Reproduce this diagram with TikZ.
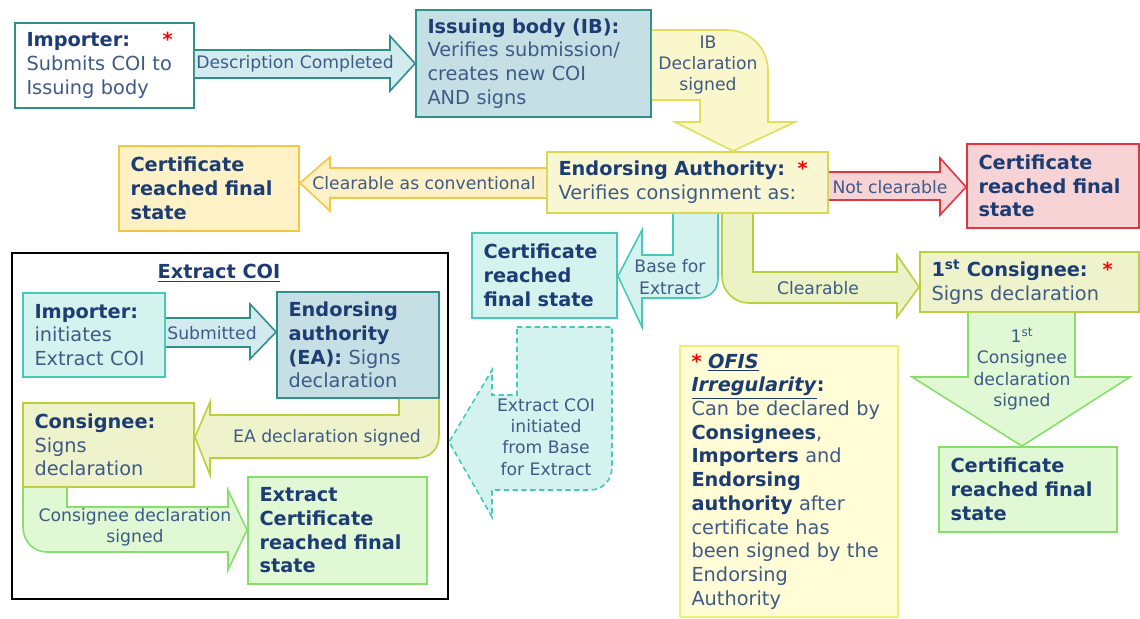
\documentclass[tikz,border=0pt]{standalone}
\usepackage{fontspec}
\setmainfont{DejaVu Sans}
\usetikzlibrary{calc}

\definecolor{headc}{HTML}{1C3D74}
\definecolor{bodyc}{HTML}{3E5B88}
\definecolor{tdk}{HTML}{2F8F8A}
\definecolor{tdkf}{HTML}{C6DFE4}
\definecolor{tarf}{HTML}{D3EBEF}
\definecolor{gold}{HTML}{F2C744}
\definecolor{goldf}{HTML}{FEF1C6}
\definecolor{ylw}{HTML}{D9D651}
\definecolor{ylwf}{HTML}{F8F7D2}
\definecolor{ylwa}{HTML}{E1DE5A}
\definecolor{ylwaf}{HTML}{F9F7CB}
\definecolor{rd}{HTML}{E2353F}
\definecolor{rdf}{HTML}{F8D3D5}
\definecolor{tlt}{HTML}{45C9B8}
\definecolor{tltf}{HTML}{D4F2EE}
\definecolor{yg}{HTML}{B9CF3C}
\definecolor{ygf}{HTML}{EAF2C6}
\definecolor{ygbf}{HTML}{EFF3CC}
\definecolor{gr}{HTML}{86DF6A}
\definecolor{grf}{HTML}{E0F8D4}
\definecolor{ofis}{HTML}{F1EE75}
\definecolor{ofisf}{HTML}{FFFCD6}

\newcommand{\hd}[1]{\textbf{\color{headc}#1}}
\newcommand{\rast}{{\color{red}\textbf{*}}}

\begin{document}
\begin{tikzpicture}[x=0.02cm, y=-0.02cm,
  box/.style 2 args={draw=#1, fill=#2, line width=1.1pt, inner xsep=0.23cm, inner ysep=2pt,
    align=left, text=bodyc, font=\fontsize{11}{13.5}\selectfont},
  barrow/.style 2 args={draw=#1, fill=#2, line width=0.9pt, line join=miter},
  lbl/.style={text=bodyc, font=\fontsize{9.8}{12.2}\selectfont, align=center, inner sep=0pt}]

  \useasboundingbox (0,0) rectangle (1140,619);

  % main flow
  \node[box={tdk}{white}, text width=3.12cm, minimum height=1.70cm] (imp) at (104.5,65.5)
    {\hd{Importer:}\hspace{0.65cm}\rast\\ Submits COI to\\ Issuing body};
  \node[box={tdk}{tdkf}, text width=4.24cm, minimum height=2.14cm] (ib) at (533.5,63.5)
    {\hd{Issuing body (IB):}\\ Verifies submission/\\ creates new COI\\ AND signs};
  \node[box={ylw}{ylwf}, text width=5.16cm, minimum height=1.22cm] (ea) at (687.5,182.5)
    {\hd{Endorsing Authority:}\hspace{0.25cm}\rast\\ Verifies consignment as:};
  \node[box={gold}{goldf}, text width=3.14cm, minimum height=1.70cm] (certY) at (209,188.5)
    {\hd{Certificate}\\ \hd{reached final}\\ \hd{state}};
  \node[box={rd}{rdf}, text width=2.98cm, minimum height=1.68cm] (certR) at (1053,186)
    {\hd{Certificate}\\ \hd{reached final}\\ \hd{state}};
  \node[box={tlt}{tltf}, text width=2.44cm, minimum height=1.70cm] (certT) at (544.5,275.5)
    {\hd{Certificate}\\ \hd{reached}\\ \hd{final state}};
  \node[box={yg}{ygbf}, text width=3.92cm, minimum height=1.20cm] (cons1) at (1029.5,282)
    {\hd{1\textsuperscript{st} Consignee:}\hspace{0.3cm}\rast\\ Signs declaration};
  \node[box={gr}{grf}, text width=3.10cm, minimum height=1.70cm] (certG) at (1028,489.5)
    {\hd{Certificate}\\ \hd{reached final}\\ \hd{state}};
  \node[box={ofis}{ofisf}, text width=3.90cm, minimum height=5.42cm] (note) at (789,481.5)
    {\rast\ \hd{\underline{\textit{OFIS}}}\\ \hd{\underline{\textit{Irregularity}}:}\\
     Can be declared by\\ \hd{Consignees},\\ \hd{Importers} and\\ \hd{Endorsing}\\
     \hd{authority} after\\ certificate has\\ been signed by the\\ Endorsing\\ Authority};

  % extract COI
  \node[draw=black, line width=1.3pt, minimum width=8.72cm, minimum height=6.92cm] (frame) at (230,426) {};
  \node[text=headc, font=\fontsize{11}{13.5}\selectfont] (etitle) at (219,273) {\underline{\textbf{Extract COI}}};
  \node[box={tlt}{tltf}, text width=2.38cm, minimum height=1.68cm] (eimp) at (94,335)
    {\hd{Importer:}\\ initiates\\ Extract COI};
  \node[box={tdk}{tdkf}, text width=2.78cm, minimum height=2.12cm] (eea) at (358,345)
    {\hd{Endorsing}\\ \hd{authority}\\ \hd{(EA):} Signs\\ declaration};
  \node[box={yg}{ygbf}, text width=2.96cm, minimum height=1.68cm] (econs) at (108.5,445)
    {\hd{Consignee:}\\ Signs\\ declaration};
  \node[box={gr}{grf}, text width=3.12cm, minimum height=2.14cm] (ecert) at (337.5,530.5)
    {\hd{Extract}\\ \hd{Certificate}\\ \hd{reached final}\\ \hd{state}};

  % block arrows
  \filldraw[barrow={tdk}{tarf}] (imp.east |- 0,50) -- (390,50) -- (390,36) -- (ib.west)
    -- (390,91) -- (390,78) -- (imp.east |- 0,78);
  \filldraw[barrow={ylwa}{ylwaf}] (ib.east |- 0,30) -- (727,30) .. controls (750,30) and (768,48) .. (768,71)
    -- (768,122) -- (795,122) -- (ea.north -| 733,0) -- (675,122) -- (700,122) -- (700,100) -- (ib.east |- 0,100);
  \filldraw[barrow={gold}{goldf}] (ea.west |- 0,168) -- (330,168) -- (330,157) -- (certY.east |- 0,183)
    -- (330,211) -- (330,198) -- (ea.west |- 0,198);
  \filldraw[barrow={rd}{rdf}] (ea.east |- 0,172) -- (940,172) -- (940,158) -- (certR.west |- 0,187)
    -- (940,215) -- (940,200) -- (ea.east |- 0,200);
  \filldraw[barrow={tlt}{tltf}] (ea.south -| 718,0) -- (718,278) .. controls (718,290) and (710,298) .. (698,298)
    -- (642,298) -- (642,327) -- (certT.east |- 0,276) -- (642,230) -- (642,255) -- (673,255) -- (ea.south -| 673,0);
  \filldraw[barrow={yg}{ygf}] (ea.south -| 722,0) -- (722,276) .. controls (722,291) and (734,303) .. (749,303)
    -- (897,303) -- (897,317) -- (cons1.west |- 0,287) -- (897,255) -- (897,272) -- (753,272) -- (ea.south -| 753,0);
  \filldraw[barrow={gr}{grf}] (cons1.south -| 968,0) -- (968,377) -- (912,377) -- (certG.north -| 1022,0)
    -- (1130,377) -- (1075,377) -- (cons1.south -| 1075,0);
  \filldraw[barrow={tlt}{tltf}, dash pattern=on 3pt off 2pt] (517,327) -- (612,327) -- (612,467)
    .. controls (612,480) and (603,490) .. (590,490) -- (492,490) -- (492,517) -- (frame.east |- 0,442)
    -- (492,370) -- (492,395) -- (517,395) -- cycle;
  \filldraw[barrow={tdk}{tarf}] (eimp.east |- 0,318) -- (250,318) -- (250,304) -- (eea.west |- 0,332)
    -- (250,359) -- (250,347) -- (eimp.east |- 0,347);
  \filldraw[barrow={yg}{ygbf}] (eea.south -| 439,0) -- (439,436) .. controls (439,449) and (430,458) .. (417,458)
    -- (210,458) -- (210,475) -- (econs.east |- 0,437) -- (210,402) -- (210,415) -- (399,415) -- (eea.south -| 399,0);
  \filldraw[barrow={gr}{grf}] (econs.south -| 23,0) -- (23,527) .. controls (23,541) and (33,552) .. (47,552)
    -- (228,552) -- (228,570) -- (ecert.west |- 0,530) -- (228,490) -- (228,507) -- (67,507) -- (econs.south -| 67,0);

  % arrow labels
  \node[lbl] (ldesc) at (295,64) {Description Completed};
  \node[lbl] (libd) at (708,65) {IB\\Declaration\\signed};
  \node[lbl] (lconv) at (424,183) {Clearable as conventional};
  \node[lbl] (lnot) at (890,187) {Not clearable};
  \node[lbl] (lbase) at (670,277) {Base for\\Extract};
  \node[lbl] (lclr) at (818,288) {Clearable};
  \node[lbl] (lcons) at (1022,369) {1\textsuperscript{st}\\Consignee\\declaration\\signed};
  \node[lbl] (lext) at (546,437) {Extract COI\\initiated\\from Base\\for Extract};
  \node[lbl] (lsub) at (212,333) {Submitted};
  \node[lbl] (lead) at (327,438) {EA declaration signed};
  \node[lbl] (lcdec) at (135,527) {Consignee declaration\\signed};
\end{tikzpicture}
\end{document}
